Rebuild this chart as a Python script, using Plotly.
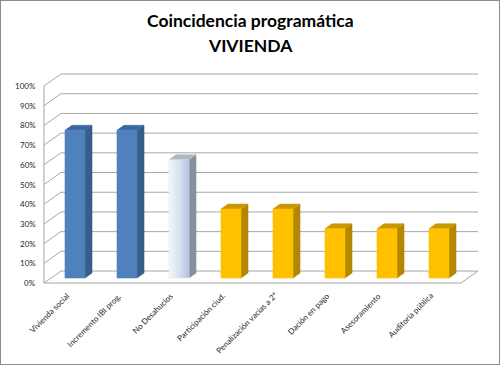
import plotly.graph_objects as go

# ---- data ----
categories = ["Vivienda social", "Incremento IBI prog.", "No Desahucios", "Participación ciud.",
              "Penalización vacías a 2ª", "Dación en pago", "Asesoramiento", "Auditoría pública"]
values = [75, 75, 60, 35, 35, 25, 25, 25]
tick_values = [0, 10, 20, 30, 40, 50, 60, 70, 80, 90, 100]
tick_labels = [f"{v}%" for v in tick_values]
title_line1 = "Coincidencia programática"
title_line2 = "VIVIENDA"

# ---- styles ----
blue = dict(front="#4F81BD", side="#385D8A", top="#3C66A0", grad=None)
light = dict(front="#DCE5F2", side="#858FA0", top="#AEB6C4",
             grad=[[0, "#F4F7FC"], [0.55, "#D5DFEF"], [1, "#AEC2E2"]])
gold = dict(front="#FFC000", side="#B38700", top="#C99800", grad=None)
bar_styles = [blue, blue, light, gold, gold, gold, gold, gold]

W, H = 500, 365
PX_X = 52.0     # px per category
PX_Y = 1.97     # px per percent
X0_PX, Y0_PX = 75.0, 278.0   # pixel of category 0 / value 0 at bar front plane
DX = 17 / PX_X  # depth offset (data units) for full wall depth
DY = 12 / PX_Y
D_FRONT = 0.42  # bar front depth
D_BACK = D_FRONT + 7 / 17.0
HALF = 10 / PX_X
WALL_L, WALL_R = -0.46, 7.56


def proj(x, v, d):
    return x + (d - D_FRONT) * DX, v + (d - D_FRONT) * DY


fig = go.Figure()


def poly(pts, color, grad=None, width=0.6, lcolor=None):
    xs = [p[0] for p in pts] + [pts[0][0]]
    ys = [p[1] for p in pts] + [pts[0][1]]
    kw = dict(x=xs, y=ys, mode="lines", fill="toself", fillcolor=color,
              line=dict(color=lcolor or color, width=width),
              hoverinfo="skip", showlegend=False)
    if grad:
        kw["fillgradient"] = dict(type="horizontal", colorscale=grad)
    fig.add_trace(go.Scatter(**kw))


def line(pts, color="#A6A6A6", width=1):
    fig.add_trace(go.Scatter(x=[p[0] for p in pts], y=[p[1] for p in pts], mode="lines",
                             line=dict(color=color, width=width),
                             hoverinfo="skip", showlegend=False))


# walls and gridlines
for v in tick_values:
    line([proj(WALL_L, v, 0), proj(WALL_L, v, 1), proj(WALL_R, v, 1)])
line([proj(WALL_L, 0, 0), proj(WALL_L, 100, 0)])
line([proj(WALL_L, 0, 0), proj(WALL_R, 0, 0), proj(WALL_R, 0, 1)])

# bars
for i, (val, st) in enumerate(zip(values, bar_styles)):
    xl, xr = i - HALF, i + HALF
    front = [proj(xl, 0, D_FRONT), proj(xr, 0, D_FRONT), proj(xr, val, D_FRONT), proj(xl, val, D_FRONT)]
    side = [proj(xr, 0, D_FRONT), proj(xr, 0, D_BACK), proj(xr, val, D_BACK), proj(xr, val, D_FRONT)]
    top = [proj(xl, val, D_FRONT), proj(xr, val, D_FRONT), proj(xr, val, D_BACK), proj(xl, val, D_BACK)]
    poly(side, st["side"])
    poly(top, st["top"])
    poly(front, st["front"], grad=st["grad"])

annotations = []
# y tick labels
for v, lab in zip(tick_values, tick_labels):
    x, y = proj(WALL_L, v, 0)
    annotations.append(dict(x=x - 6 / PX_X, y=y, text=lab, showarrow=False, xanchor="right",
                            yanchor="middle", font=dict(size=8, color="#262626", family="Lato")))
# category labels
for i, cat in enumerate(categories):
    annotations.append(dict(x=i - 1 / PX_X, y=-10 / PX_Y, text=cat, showarrow=False, textangle=-45,
                            xanchor="right", yanchor="top",
                            font=dict(size=8, color="#262626", family="Lato")))
# title
annotations.append(dict(xref="paper", yref="paper", x=0.5, y=1 - 21 / H, text=f"<b>{title_line1}</b>",
                        showarrow=False, xanchor="center", yanchor="middle",
                        font=dict(size=17.5, color="#000000", family="Lato")))
annotations.append(dict(xref="paper", yref="paper", x=0.5, y=1 - 45 / H, text=f"<b>{title_line2}</b>",
                        showarrow=False, xanchor="center", yanchor="middle",
                        font=dict(size=17.5, color="#000000", family="Lato")))

fig.update_layout(
    width=W, height=H, margin=dict(l=0, r=0, t=0, b=0),
    paper_bgcolor="white", plot_bgcolor="white",
    xaxis=dict(range=[-X0_PX / PX_X, (W - X0_PX) / PX_X], visible=False, fixedrange=True),
    yaxis=dict(range=[(Y0_PX - H) / PX_Y, Y0_PX / PX_Y], visible=False, fixedrange=True),
    annotations=annotations,
    shapes=[dict(type="rect", xref="paper", yref="paper", x0=0, y0=0, x1=1, y1=1,
                 line=dict(color="#8C8C8C", width=2))],
)

fig.write_html("out.html", config={"displayModeBar": False},
               post_script="document.body.style.margin='0';document.body.style.overflow='hidden';")
